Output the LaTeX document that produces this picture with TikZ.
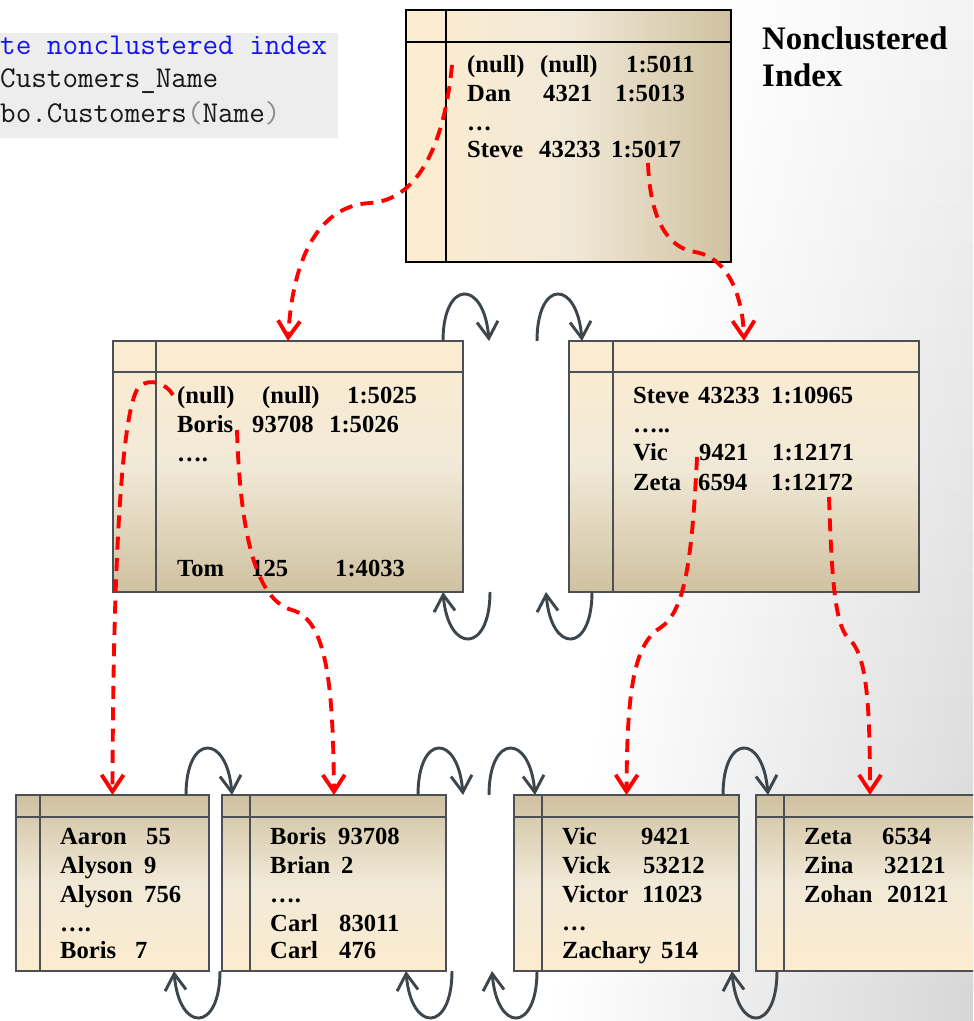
\documentclass[tikz,border=0pt]{standalone}
\usepackage{fontspec}
\setmainfont{Liberation Serif}
\usetikzlibrary{arrows.meta,calc}

% one unit of the drawing grid
\newlength\pxunit
\setlength\pxunit{0.03cm}
% fixed-width column inside a row of a page
\newcommand\tcell[2]{\makebox[#1\pxunit][l]{#2}}

\definecolor{cream}{HTML}{FCECD0}
\definecolor{creammid}{HTML}{F1E9D7}
\definecolor{tan}{HTML}{CFC1A0}
\definecolor{framegray}{HTML}{4A5056}
\definecolor{arcgray}{HTML}{3E464C}
\definecolor{codebg}{HTML}{EDEDED}
\definecolor{codeblue}{HTML}{1414F0}

\tikzset{
  sz/.style 2 args={minimum width=#1*0.03cm, minimum height=#2*0.03cm},
  pagebox/.style={draw, line width=2.2pt, inner sep=0pt, outer sep=0pt, anchor=north west},
  rootbox/.style={pagebox, draw=black, line width=2.5pt,
    left color=cream, right color=tan, middle color=creammid},
  midbox/.style={pagebox, draw=framegray,
    top color=cream, bottom color=tan, middle color=creammid},
  leafbox/.style={pagebox, draw=framegray,
    top color=tan, bottom color=cream, middle color=creammid},
  divider/.style={line width=2.2pt, draw=framegray},
  rowtext/.style={anchor=base west, inner sep=0pt,
    font=\fontsize{21pt}{24pt}\selectfont\bfseries},
  labeltext/.style={anchor=base west, inner sep=0pt,
    font=\fontsize{28pt}{32pt}\selectfont\bfseries},
  codetext/.style={anchor=base west, inner sep=0pt, text=black!90,
    font=\ttfamily\fontsize{25.8pt}{30pt}\selectfont},
  linkarc/.style={draw=arcgray, line width=2.5pt,
    -{Straight Barb[length=0.5cm, width=0.63cm]}},
  redptr/.style={draw=red, line width=3.3pt, dash pattern=on 0.39cm off 0.25cm,
    -{Straight Barb[length=0.5cm, width=0.66cm]}}
}

\begin{document}
\begin{tikzpicture}[x=0.03cm, y=-0.03cm]
\useasboundingbox (0,0) rectangle (973,1021);
\clip (0,0) rectangle (973,1021);

% slide background: white, greying towards the right edge and more so lower down
\fill[white] (0,0) rectangle (973,1021);
\foreach \i in {0,...,24} {
  \pgfmathsetmacro\ytop{\i*41}
  \pgfmathsetmacro\ybot{\i*41+42}
  \pgfmathsetmacro\xstart{700-150*\i/24}
  \pgfmathsetmacro\shadepct{5+11*\i/24}
  \shade[left color=white, right color=black!\shadepct]
    (\xstart,\ytop) rectangle (973,\ybot);
}

% T-SQL snippet
\node[fill=codebg, inner sep=0pt, anchor=north west, sz={338}{105}] (code) at (0,33) {};
\node[codetext, text=codeblue] (code1) at (0,55) {te nonclustered index};
\node[codetext] (code2) at (0,88) {Customers\_Name};
\node[codetext] (code3) at (0,123) {bo.Customers{\color{black!45}(}Name{\color{black!45})}};

% caption
\node[labeltext] (lbl1) at (762,50) {Nonclustered};
\node[labeltext] (lbl2) at (762,87) {Index};

% ---------- root page ----------
\node[rootbox, sz={325}{252}] (root) at (406,10) {};
\draw[line width=2.5pt] ($(root.north west)+(0,32)$) -- ($(root.north east)+(0,32)$);
\draw[line width=2.5pt] ($(root.north west)+(40,0)$) -- ($(root.south west)+(40,0)$);
\node[rowtext] (ra1) at (467,73) {\tcell{73}{(null)}\tcell{86}{(null)}1:5011};
\node[rowtext] (ra2) at (467,102) {\tcell{76}{Dan}\tcell{72}{4321}1:5013};
\node[rowtext] (ra3) at (467,131) {…};
\node[rowtext] (ra4) at (467,158) {\tcell{72}{Steve}\tcell{72}{43233}1:5017};

% ---------- intermediate pages ----------
\node[midbox, sz={350}{251}] (mL) at (113,341) {};
\draw[divider] ($(mL.north west)+(0,31)$) -- ($(mL.north east)+(0,31)$);
\draw[divider] ($(mL.north west)+(43,0)$) -- ($(mL.south west)+(43,0)$);
\node[rowtext] (rb1) at (177,403) {\tcell{85}{(null)}\tcell{85}{(null)}1:5025};
\node[rowtext] (rb2) at (177,432) {\tcell{75}{Boris}\tcell{77}{93708}1:5026};
\node[rowtext] (rb3) at (177,461) {….};
\node[rowtext] (rb4) at (177,576) {\tcell{74}{Tom}\tcell{84}{125}1:4033};

\node[midbox, sz={350}{251}] (mR) at (569,341) {};
\draw[divider] ($(mR.north west)+(0,31)$) -- ($(mR.north east)+(0,31)$);
\draw[divider] ($(mR.north west)+(44,0)$) -- ($(mR.south west)+(44,0)$);
\node[rowtext] (rc1) at (633,403) {\tcell{65}{Steve}\tcell{73}{43233}1:10965};
\node[rowtext] (rc2) at (633,432) {…..};
\node[rowtext] (rc3) at (633,460) {\tcell{66}{Vic}\tcell{73}{9421}1:12171};
\node[rowtext] (rc4) at (633,490) {\tcell{65}{Zeta}\tcell{73}{6594}1:12172};

% ---------- leaf pages ----------
\node[leafbox, sz={193}{176}] (B1) at (16,795) {};
\draw[divider] ($(B1.north west)+(0,22)$) -- ($(B1.north east)+(0,22)$);
\draw[divider] ($(B1.north west)+(24,0)$) -- ($(B1.south west)+(24,0)$);
\node[rowtext] (rd1) at (60,844) {\tcell{86}{Aaron}55};
\node[rowtext] (rd2) at (60,873) {\tcell{84}{Alyson}9};
\node[rowtext] (rd3) at (60,902) {\tcell{84}{Alyson}756};
\node[rowtext] (rd4) at (60,931) {….};
\node[rowtext] (rd5) at (60,958) {\tcell{75}{Boris}7};

\node[leafbox, sz={224}{176}] (B2) at (222,795) {};
\draw[divider] ($(B2.north west)+(0,22)$) -- ($(B2.north east)+(0,22)$);
\draw[divider] ($(B2.north west)+(28,0)$) -- ($(B2.south west)+(28,0)$);
\node[rowtext] (re1) at (270,844) {\tcell{68}{Boris}93708};
\node[rowtext] (re2) at (270,873) {\tcell{71}{Brian}2};
\node[rowtext] (re3) at (270,902) {….};
\node[rowtext] (re4) at (270,931) {\tcell{69}{Carl}83011};
\node[rowtext] (re5) at (270,958) {\tcell{69}{Carl}476};

\node[leafbox, sz={225}{176}] (B3) at (514,795) {};
\draw[divider] ($(B3.north west)+(0,22)$) -- ($(B3.north east)+(0,22)$);
\draw[divider] ($(B3.north west)+(28,0)$) -- ($(B3.south west)+(28,0)$);
\node[rowtext] (rf1) at (562,844) {\tcell{79}{Vic}9421};
\node[rowtext] (rf2) at (562,873) {\tcell{81}{Vick}53212};
\node[rowtext] (rf3) at (562,902) {\tcell{80}{Victor}11023};
\node[rowtext] (rf4) at (562,930) {…};
\node[rowtext] (rf5) at (562,958) {\tcell{99}{Zachary}514};

\node[leafbox, sz={228}{176}] (B4) at (756,795) {};
\draw[divider] ($(B4.north west)+(0,22)$) -- ($(B4.north east)+(0,22)$);
\draw[divider] ($(B4.north west)+(28,0)$) -- ($(B4.south west)+(28,0)$);
\node[rowtext] (rg1) at (804,844) {\tcell{78}{Zeta}6534};
\node[rowtext] (rg2) at (804,873) {\tcell{80}{Zina}32121};
\node[rowtext] (rg3) at (804,902) {\tcell{83}{Zohan}20121};

% ---------- page chain links ----------
\coordinate (g1) at (489,341);
\coordinate (g2) at (537,341);
\coordinate (g3) at (490,592);
\coordinate (g4) at (546,592);
\coordinate (g6) at (463,795);
\coordinate (g7) at (489,795);
\coordinate (g10) at (452,971);
\coordinate (g11) at (492,971);

\draw[linkarc] ($(mL.north west)+(330,0)$) .. controls +(0,-62) and +(-5,-62) .. (g1);
\draw[linkarc] (g2) .. controls +(0,-62) and +(-5,-62) .. ($(mR.north west)+(13,0)$);
\draw[linkarc] (g3) .. controls +(0,62) and +(5,62) .. ($(mL.south west)+(330,0)$);
\draw[linkarc] ($(mR.south west)+(23,0)$) .. controls +(0,62) and +(5,62) .. (g4);

\draw[linkarc] ($(B1.north east)+(-23,0)$) .. controls +(0,-62) and +(-5,-62) .. ($(B2.north west)+(10,0)$);
\draw[linkarc] ($(B2.north east)+(-28,0)$) .. controls +(0,-62) and +(-5,-62) .. (g6);
\draw[linkarc] (g7) .. controls +(0,-62) and +(-5,-62) .. ($(B3.north west)+(21,0)$);
\draw[linkarc] ($(B3.north east)+(-16,0)$) .. controls +(0,-62) and +(-5,-62) .. ($(B4.north west)+(12,0)$);

\draw[linkarc] ($(B2.south west)+(-2,0)$) .. controls +(0,62) and +(5,62) .. ($(B1.south west)+(158,0)$);
\draw[linkarc] (g10) .. controls +(0,62) and +(5,62) .. ($(B2.south west)+(184,0)$);
\draw[linkarc] ($(B3.south west)+(23,0)$) .. controls +(0,62) and +(5,62) .. (g11);
\draw[linkarc] ($(B4.south west)+(21,0)$) .. controls +(0,62) and +(5,62) .. ($(B3.south west)+(218,0)$);

% ---------- index pointers ----------
\draw[redptr] ($(root.north west)+(46,55)$)
  .. controls (445,140) and (420,200) .. (370,203)
  .. controls (315,206) and (292,265) .. (mL.north);
\draw[redptr] ($(root.north west)+(242,153)$)
  .. controls (650,220) and (668,248) .. (695,252)
  .. controls (730,258) and (743,300) .. (mR.north);
\draw[redptr] ($(mL.north west)+(60,54)$)
  .. controls (166,383) and (150,378) .. (140,386)
  .. controls (122,400) and (113,560) .. (B1.north);
\draw[redptr] ($(mL.north west)+(124,89)$)
  .. controls (240,530) and (255,600) .. (292,610)
  .. controls (328,620) and (333,690) .. (B2.north);
\draw[redptr] ($(mR.north west)+(128,116)$)
  .. controls (692,560) and (685,612) .. (660,628)
  .. controls (632,645) and (627,700) .. (B3.north);
\draw[redptr] ($(mR.north west)+(260,156)$)
  .. controls (832,590) and (836,628) .. (850,640)
  .. controls (866,655) and (870,700) .. (B4.north);
\end{tikzpicture}
\end{document}
